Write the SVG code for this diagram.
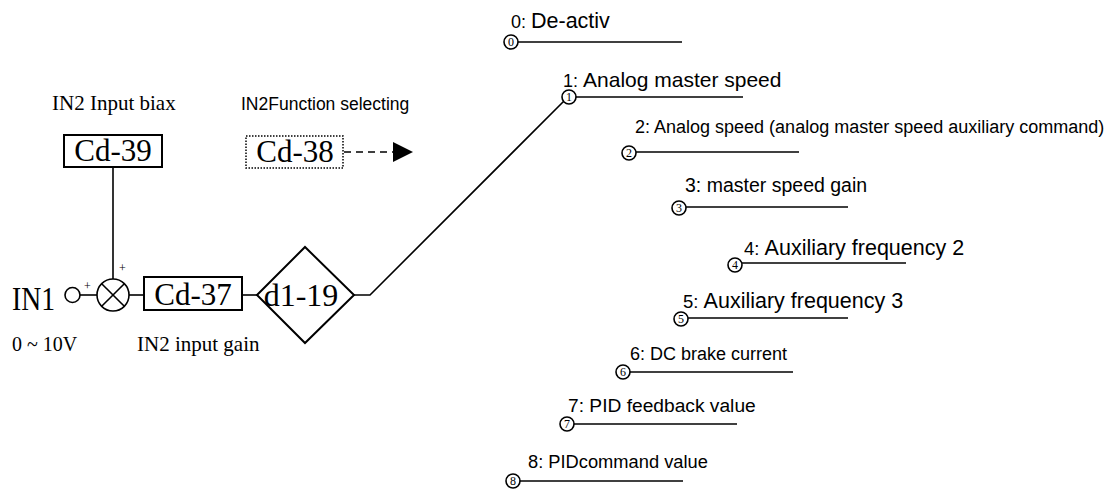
<svg xmlns="http://www.w3.org/2000/svg" width="1119" height="493" viewBox="0 0 1119 493">
<style>
.ln{stroke:#000;stroke-width:1.6;fill:none}
.box{stroke:#000;stroke-width:2;fill:#fff}
.serif{font-family:"Liberation Serif","Times New Roman",serif;fill:#000}
.sans{font-family:"Liberation Sans",Arial,sans-serif;fill:#000}
.pt{stroke:#000;stroke-width:1.6;fill:#fff}
.pn{font-family:"Liberation Serif",serif;font-size:12px;text-anchor:middle;fill:#000}
</style>
<defs>
<marker id="tri" markerWidth="22" markerHeight="22" refX="20" refY="10" orient="auto" markerUnits="userSpaceOnUse">
<path d="M0,0 L20,10 L0,20 Z" fill="#000"/>
</marker>
</defs>
<rect width="1119" height="493" fill="#fff"/>

<g id="connectors">
<line class="ln" x1="113" y1="167" x2="113" y2="279"/>
<line class="ln" x1="80" y1="295" x2="97" y2="295"/>
<line class="ln" x1="129" y1="295" x2="144" y2="295"/>
<line class="ln" x1="242" y1="295" x2="257" y2="295"/>
<polyline class="ln" points="354,295 370,295 564,101"/>
<line x1="344" y1="152" x2="413" y2="152" stroke="#000" stroke-width="1.6" stroke-dasharray="7,5" marker-end="url(#tri)"/>
</g>

<g id="label-in2-bias"><text class="serif" x="52" y="110" font-size="21">IN2 Input biax</text></g>
<g id="label-in2-func"><text class="sans" x="241" y="110" font-size="17.5">IN2Function selecting</text></g>

<g id="cd39">
<rect class="box" x="64" y="135" width="98" height="32"/>
<text class="serif" x="113" y="161" font-size="31" text-anchor="middle">Cd-39</text>
</g>

<g id="cd38">
<rect x="246" y="136" width="97" height="32" fill="#fff" stroke="#000" stroke-width="1.5" stroke-dasharray="1.5,1.5"/>
<text class="serif" x="295" y="162" font-size="31" text-anchor="middle">Cd-38</text>
</g>

<g id="in1">
<text class="serif" x="12" y="310" font-size="33" textLength="43" lengthAdjust="spacingAndGlyphs">IN1</text>
<circle class="pt" cx="72.5" cy="295" r="7.5"/>
<text class="serif" x="84" y="290" font-size="12">+</text>
</g>

<g id="sum">
<circle class="pt" cx="113" cy="295" r="16" stroke-width="2"/>
<line class="ln" x1="101.7" y1="283.7" x2="124.3" y2="306.3" stroke-width="2"/>
<line class="ln" x1="124.3" y1="283.7" x2="101.7" y2="306.3" stroke-width="2"/>
<text class="serif" x="119" y="272" font-size="12">+</text>
</g>

<g id="cd37">
<rect class="box" x="144" y="277" width="98" height="33"/>
<text class="serif" x="193" y="305" font-size="31" text-anchor="middle">Cd-37</text>
</g>

<g id="d1-19">
<polygon class="box" points="257,295 305,247 354,295 305,343"/>
<text class="serif" x="301" y="306" font-size="32" text-anchor="middle">d1-19</text>
</g>

<g id="label-range"><text class="serif" x="12" y="351" font-size="20">0 ~ 10V</text></g>
<g id="label-gain"><text class="serif" x="137" y="351" font-size="21">IN2 input gain</text></g>

<g id="opt0">
<text class="sans" x="511" y="28" font-size="21.5"><tspan font-size="18">0: </tspan>De-activ</text>
<line class="ln" x1="518" y1="42" x2="682" y2="42"/>
<circle class="pt" cx="511" cy="42" r="7"/><text class="pn" x="511" y="46">0</text>
</g>
<g id="opt1">
<text class="sans" x="563" y="87" font-size="21"><tspan font-size="18">1: </tspan>Analog master speed</text>
<line class="ln" x1="576" y1="97" x2="743" y2="97"/>
<circle class="pt" cx="569" cy="97" r="7"/><text class="pn" x="569" y="101">1</text>
</g>
<g id="opt2">
<text class="sans" x="635" y="133" font-size="18">2: Analog speed (analog master speed auxiliary command)</text>
<line class="ln" x1="636" y1="152" x2="799" y2="152"/>
<circle class="pt" cx="629" cy="153" r="7"/><text class="pn" x="629" y="157">2</text>
</g>
<g id="opt3">
<text class="sans" x="685" y="192" font-size="19.5">3: master speed gain</text>
<line class="ln" x1="686" y1="207" x2="848" y2="207"/>
<circle class="pt" cx="679" cy="208" r="7"/><text class="pn" x="679" y="212">3</text>
</g>
<g id="opt4">
<text class="sans" x="744" y="255" font-size="21.5"><tspan font-size="18.5">4: </tspan>Auxiliary frequency 2</text>
<line class="ln" x1="742" y1="263" x2="906" y2="263"/>
<circle class="pt" cx="735" cy="265" r="7"/><text class="pn" x="735" y="269">4</text>
</g>
<g id="opt5">
<text class="sans" x="683" y="308" font-size="21.5"><tspan font-size="18.5">5: </tspan>Auxiliary frequency 3</text>
<line class="ln" x1="688" y1="318" x2="848" y2="318"/>
<circle class="pt" cx="681" cy="319" r="7"/><text class="pn" x="681" y="323">5</text>
</g>
<g id="opt6">
<text class="sans" x="630" y="360" font-size="18">6: DC brake current</text>
<line class="ln" x1="630" y1="372" x2="793" y2="372"/>
<circle class="pt" cx="623" cy="372" r="7"/><text class="pn" x="623" y="376">6</text>
</g>
<g id="opt7">
<text class="sans" x="568" y="412" font-size="19.2">7: PID feedback value</text>
<line class="ln" x1="574" y1="424" x2="737" y2="424"/>
<circle class="pt" cx="567" cy="424" r="7"/><text class="pn" x="567" y="428">7</text>
</g>
<g id="opt8">
<text class="sans" x="528" y="468" font-size="18.3">8: PIDcommand value</text>
<line class="ln" x1="520" y1="481" x2="683" y2="481"/>
<circle class="pt" cx="513" cy="481" r="7"/><text class="pn" x="513" y="485">8</text>
</g>
</svg>
